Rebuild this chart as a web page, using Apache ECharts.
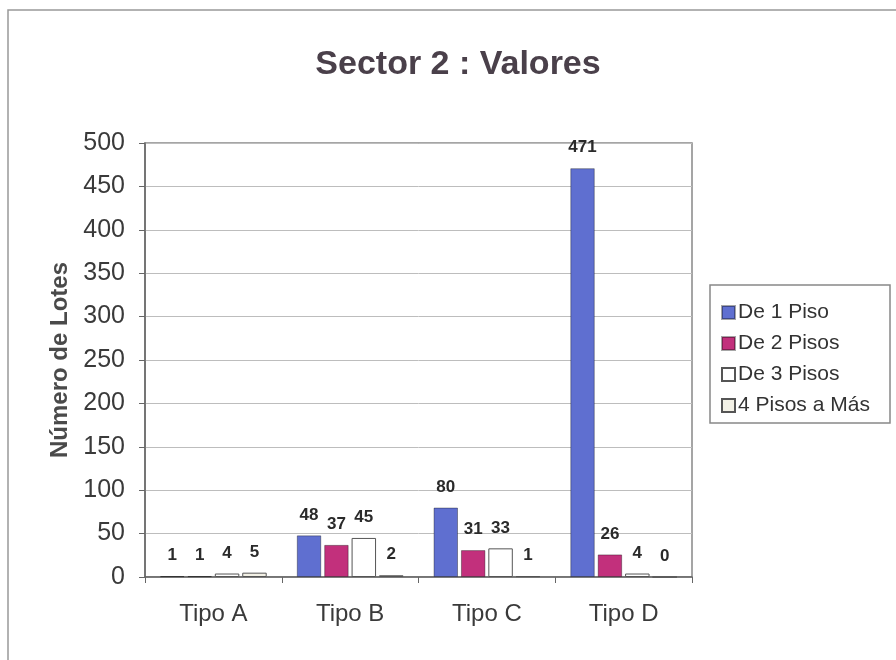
<!DOCTYPE html>
<html><head><meta charset="utf-8">
<script src="https://cdn.jsdelivr.net/npm/echarts@6/dist/echarts.min.js"></script>
<style>html,body{margin:0;padding:0;background:#fff}#c{width:896px;height:660px}</style>
</head><body><div id="c"></div>
<script>
const categories = ['Tipo A', 'Tipo B', 'Tipo C', 'Tipo D'];
const seriesNames = ['De 1 Piso', 'De 2 Pisos', 'De 3 Pisos', '4 Pisos a Más'];
const piso1 = [1, 48, 80, 471];
const piso2 = [1, 37, 31, 26];
const piso3 = [4, 45, 33, 4];
const piso4 = [5, 2, 1, 0];
const yTicks = [0, 50, 100, 150, 200, 250, 300, 350, 400, 450, 500];

const colors = ['#5f6fd0', '#c2307c', '#ffffff', '#f3f1e6'];
const values = [piso1, piso2, piso3, piso4];
const chart = echarts.init(document.getElementById('c'));
chart.setOption({
  animation: false,
  title: { text: 'Sector 2 : Valores', left: 453, top: 43, textAlign: 'center',
    textStyle: { fontFamily: 'Liberation Sans', fontSize: 34, fontWeight: 'bold', color: '#4a404a' } },
  legend: { orient: 'vertical', left: 716, top: 297, itemGap: 10, itemWidth: 13, itemHeight: 13,
    icon: 'rect', data: seriesNames,
    textStyle: { fontFamily: 'Liberation Sans', fontSize: 21, color: '#333', padding: [0,0,0,-2] } },
  grid: { left: 145, right: 204, top: 143, bottom: 83 },
  xAxis: { type: 'category', data: categories,
    axisLine: { lineStyle: { color: '#666', width: 1.5 } },
    axisTick: { show: true, length: 6, lineStyle: { color: '#666' } },
    axisLabel: { fontFamily: 'Liberation Sans', fontSize: 24, color: '#3a3a3a', margin: 25 } },
  yAxis: { type: 'value', min: 0, max: yTicks[yTicks.length-1], interval: yTicks[1]-yTicks[0],
    name: 'Número de Lotes', nameLocation: 'middle', nameGap: 73, nameRotate: 90,
    nameTextStyle: { fontFamily: 'Liberation Sans', fontSize: 24, fontWeight: 'bold', color: '#4a4a4a' },
    axisLine: { show: true, lineStyle: { color: '#666', width: 1.5 } },
    axisTick: { show: true, length: 6, inside: false, lineStyle: { color: '#666' } },
    axisLabel: { fontFamily: 'Liberation Sans', fontSize: 25, color: '#3a3a3a', margin: 20 },
    splitLine: { lineStyle: { color: '#bdbdbd', type: 'solid', width: 1 } } },
  graphic: [
    { type: 'rect', shape: { x: 145, y: 143, width: 547, height: 434 }, style: { fill: 'none', stroke: '#888', lineWidth: 1.5 }, silent: true },
    { type: 'rect', shape: { x: 710, y: 285, width: 180, height: 138 }, style: { fill: 'none', stroke: '#888', lineWidth: 1.5 }, silent: true },
    { type: 'rect', shape: { x: 8, y: 10, width: 900, height: 700 }, style: { fill: 'none', stroke: '#999', lineWidth: 1.5 }, silent: true }
  ],
  series: seriesNames.map((n, i) => ({
    name: n, type: 'bar', data: values[i], barGap: '12%', barCategoryGap: '22%',
    itemStyle: { color: colors[i], borderColor: i >= 2 ? '#555' : 'rgba(0,0,0,0.35)', borderWidth: 1 },
    label: { show: true, position: 'top', distance: 12, fontFamily: 'Liberation Sans', fontSize: 17,
      fontWeight: 'bold', color: '#2a2a2a' }
  }))
});
</script></body></html>
